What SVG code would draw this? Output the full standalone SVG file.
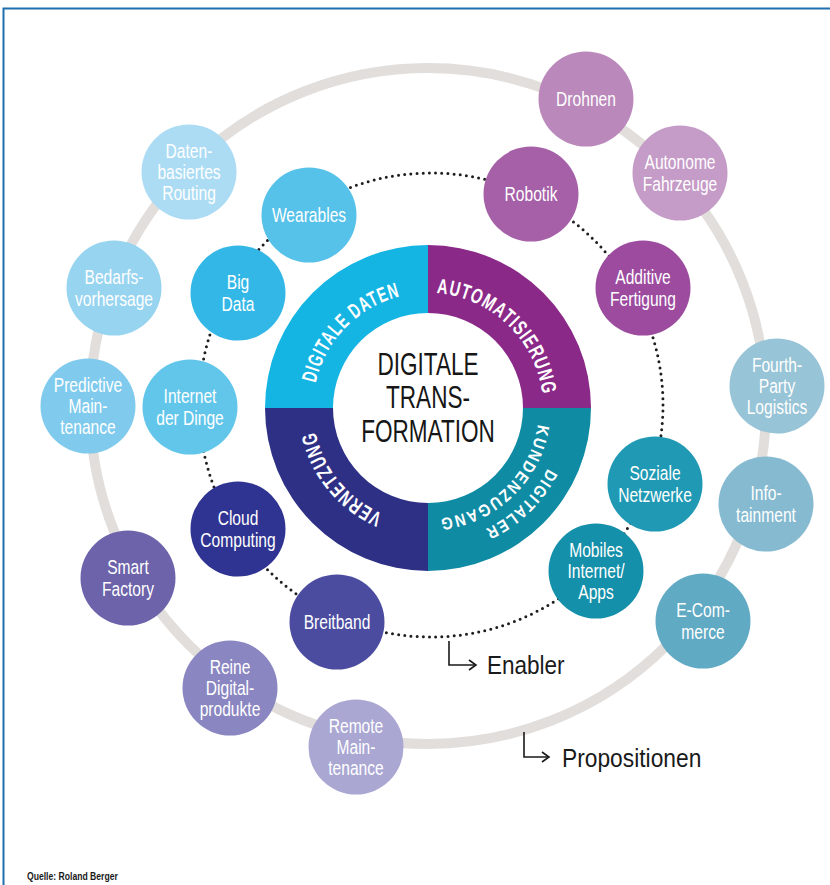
<svg xmlns="http://www.w3.org/2000/svg" width="830" height="885" viewBox="0 0 830 885">
  <defs>
    <style>
      .t { font-family: "Liberation Sans", Arial, sans-serif; }
      .node text { fill: #ffffff; font-size: 19.5px; text-anchor: middle; transform: scale(0.8, 1); }
      .ring text { fill: #ffffff; font-weight: bold; font-size: 21px; letter-spacing: 1.5px; }
      .ring text.two { font-size: 17px; letter-spacing: 2px; }
      .center-label { fill: #161616; font-size: 30.5px; text-anchor: middle; }
      .legend { fill: #1a1a1a; font-size: 26.5px; }
      .dots { fill: none; stroke: #1e1e1e; stroke-width: 3; stroke-linecap: round; stroke-dasharray: 0 6.2; }
      .orbit { fill: none; stroke: #e2dedb; stroke-width: 10; }
      .pointer { fill: none; stroke: #1a1a1a; stroke-width: 1.6; }
    </style>
    <marker id="chevron" markerUnits="userSpaceOnUse" markerWidth="12" markerHeight="14" refX="8" refY="6" orient="auto">
      <path d="M1,1 L8,6 L1,11" fill="none" stroke="#1a1a1a" stroke-width="1.6"/>
    </marker>
    <!-- clockwise circles (start at 9 o'clock) used as text baselines -->
    <path id="arc115" d="M313,408 A115,115 0 1 1 543,408 A115,115 0 1 1 313,408"/>
    <path id="arc134" d="M294,408 A134,134 0 1 1 562,408 A134,134 0 1 1 294,408"/>
    <path id="arc111" d="M317,408 A111,111 0 1 1 539,408 A111,111 0 1 1 317,408"/>
  </defs>

  <rect x="0" y="0" width="830" height="885" fill="#ffffff"/>
  <!-- frame -->
  <path d="M3.5,885 L3.5,8.5 L830,8.5" fill="none" stroke="#1f6fae" stroke-width="2"/>

  <!-- connectors: outer orbit, dotted enabler ring, legend pointers -->
  <g id="connectors">
    <circle class="orbit" cx="428" cy="406" r="338"/>
    <circle class="dots" cx="431" cy="405" r="232"/>
    <polyline class="pointer" points="449,641 449,665 476,665" marker-end="url(#chevron)"/>
    <polyline class="pointer" points="524,732 524,757 549,757" marker-end="url(#chevron)"/>
  </g>

  <!-- central ring -->
  <g id="core" class="t">
    <g class="ring">
      <path d="M265,408 A163,163 0 0 1 428,245 L428,313 A95,95 0 0 0 333,408 Z" fill="#14b4e3"/>
      <path d="M428,245 A163,163 0 0 1 591,408 L523,408 A95,95 0 0 0 428,313 Z" fill="#8b2989"/>
      <path d="M591,408 A163,163 0 0 1 428,571 L428,503 A95,95 0 0 0 523,408 Z" fill="#0f8ba4"/>
      <path d="M428,571 A163,163 0 0 1 265,408 L333,408 A95,95 0 0 0 428,503 Z" fill="#2e3086"/>
      <text><textPath href="#arc115" startOffset="12.3%" text-anchor="middle" textLength="128" lengthAdjust="spacingAndGlyphs">DIGITALE DATEN</textPath></text>
      <text><textPath href="#arc115" startOffset="37.2%" text-anchor="middle" textLength="159" lengthAdjust="spacingAndGlyphs">AUTOMATISIERUNG</textPath></text>
      <text class="two"><textPath href="#arc134" startOffset="62.8%" text-anchor="middle" textLength="90" lengthAdjust="spacingAndGlyphs">DIGITALER</textPath></text>
      <text class="two"><textPath href="#arc111" startOffset="62.9%" text-anchor="middle" textLength="147" lengthAdjust="spacingAndGlyphs">KUNDENZUGANG</textPath></text>
      <text><textPath href="#arc115" startOffset="89.1%" text-anchor="middle" textLength="111" lengthAdjust="spacingAndGlyphs">VERNETZUNG</textPath></text>
    </g>
    <text class="center-label" transform="translate(428,375) scale(0.74,1)">DIGITALE</text>
    <text class="center-label" transform="translate(428,408) scale(0.74,1)">TRANS-</text>
    <text class="center-label" transform="translate(428,442) scale(0.74,1)">FORMATION</text>
  </g>

  <!-- enabler nodes -->
  <g class="t">
    <g id="wearables" class="node" transform="translate(309,215)"><circle r="47.5" fill="#56c1e9"/><text y="7">Wearables</text></g>
    <g id="big-data" class="node" transform="translate(238,293)"><circle r="47.5" fill="#33b7e7"/><text y="-3.75">Big</text><text y="17.75">Data</text></g>
    <g id="internet-der-dinge" class="node" transform="translate(190,407)"><circle r="47.5" fill="#62c6eb"/><text y="-3.75">Internet</text><text y="17.75">der Dinge</text></g>
    <g id="robotik" class="node" transform="translate(531,194)"><circle r="47.5" fill="#a660a8"/><text y="7">Robotik</text></g>
    <g id="additive-fertigung" class="node" transform="translate(643,288)"><circle r="47.5" fill="#9c4b9f"/><text y="-3.75">Additive</text><text y="17.75">Fertigung</text></g>
    <g id="soziale-netzwerke" class="node" transform="translate(655,484)"><circle r="47.5" fill="#1f99b4"/><text y="-3.75">Soziale</text><text y="17.75">Netzwerke</text></g>
    <g id="mobiles-internet-apps" class="node" transform="translate(596,571)"><circle r="47.5" fill="#1590aa"/><text y="-14.5">Mobiles</text><text y="7">Internet/</text><text y="28.5">Apps</text></g>
    <g id="cloud-computing" class="node" transform="translate(238,529)"><circle r="47.5" fill="#2f3391"/><text y="-3.75">Cloud</text><text y="17.75">Computing</text></g>
    <g id="breitband" class="node" transform="translate(337,622)"><circle r="47.5" fill="#4b4c9f"/><text y="7">Breitband</text></g>
  </g>

  <!-- proposition nodes -->
  <g class="t">
    <g id="drohnen" class="node" transform="translate(586,99)"><circle r="47.5" fill="#bb88bb"/><text y="7">Drohnen</text></g>
    <g id="autonome-fahrzeuge" class="node" transform="translate(680,173)"><circle r="47.5" fill="#c59bc7"/><text y="-3.75">Autonome</text><text y="17.75">Fahrzeuge</text></g>
    <g id="fourth-party-logistics" class="node" transform="translate(777,386)"><circle r="47.5" fill="#97c4d6"/><text y="-14.5">Fourth-</text><text y="7">Party</text><text y="28.5">Logistics</text></g>
    <g id="infotainment" class="node" transform="translate(766,504)"><circle r="47.5" fill="#86bad0"/><text y="-3.75">Info-</text><text y="17.75">tainment</text></g>
    <g id="e-commerce" class="node" transform="translate(703,621)"><circle r="47.5" fill="#61aac4"/><text y="-3.75">E-Com-</text><text y="17.75">merce</text></g>
    <g id="remote-maintenance" class="node" transform="translate(356,747)"><circle r="47.5" fill="#aaa7d3"/><text y="-14.5">Remote</text><text y="7">Main-</text><text y="28.5">tenance</text></g>
    <g id="reine-digitalprodukte" class="node" transform="translate(230,688)"><circle r="47.5" fill="#8a86c1"/><text y="-14.5">Reine</text><text y="7">Digital-</text><text y="28.5">produkte</text></g>
    <g id="smart-factory" class="node" transform="translate(128,578)"><circle r="47.5" fill="#6c63aa"/><text y="-3.75">Smart</text><text y="17.75">Factory</text></g>
    <g id="predictive-maintenance" class="node" transform="translate(88,406)"><circle r="47.5" fill="#80cbed"/><text y="-14.5">Predictive</text><text y="7">Main-</text><text y="28.5">tenance</text></g>
    <g id="bedarfsvorhersage" class="node" transform="translate(114,288)"><circle r="47.5" fill="#97d4f0"/><text y="-3.75">Bedarfs-</text><text y="17.75">vorhersage</text></g>
    <g id="daten-basiertes-routing" class="node" transform="translate(189,172)"><circle r="47.5" fill="#abdcf4"/><text y="-14.5">Daten-</text><text y="7">basiertes</text><text y="28.5">Routing</text></g>
  </g>

  <!-- legend -->
  <g id="legend" class="t">
    <text class="legend" transform="translate(487,674) scale(0.85,1)">Enabler</text>
    <text class="legend" transform="translate(562,767) scale(0.86,1)">Propositionen</text>
  </g>

  <text class="t" transform="translate(27,880) scale(0.82,1)" font-size="10.5" font-weight="bold" fill="#1a1a1a">Quelle: Roland Berger</text>
</svg>
